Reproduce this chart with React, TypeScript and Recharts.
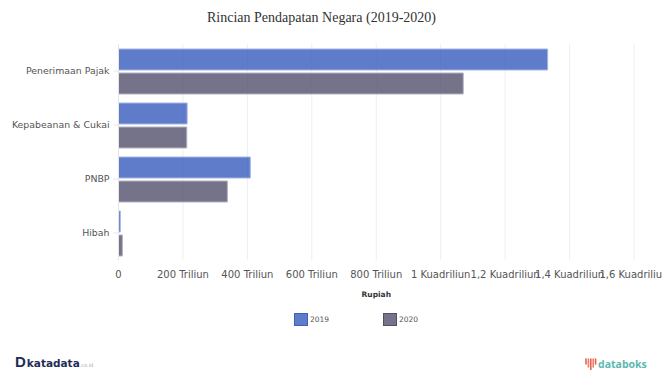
import { BarChart, Bar, XAxis, YAxis, CartesianGrid, Label } from "recharts";

// Nilai dalam triliun rupiah
const categories = ["Penerimaan Pajak", "Kepabeanan & Cukai", "PNBP", "Hibah"];
const values2019 = [1332, 213, 409, 5.5];
const values2020 = [1070, 212, 338, 12];
const xTicks = [0, 200, 400, 600, 800, 1000, 1200, 1400, 1600];

const rows = categories.map((name, i) => ({
  name,
  y2019: values2019[i],
  y2020: values2020[i],
}));

function formatRupiah(v: number) {
  if (v === 0) return "0";
  if (v < 1000) return `${v} Triliun`;
  return `${String(v / 1000).replace(".", ",")} Kuadriliun`;
}

const legendItems = [
  { label: "2019", left: 293.5, fill: "#5f7ccb", border: "#3f60c2" },
  { label: "2020", left: 382.5, fill: "#747389", border: "#51506c" },
];

function ChartLegend() {
  return (
    <div style={{ position: "absolute", left: 0, top: 313, width: 662, height: 20 }}>
      {legendItems.map((item) => (
        <div key={item.label}>
          <div
            style={{
              position: "absolute",
              left: item.left,
              top: 0,
              width: 12,
              height: 11,
              background: item.fill,
              border: `1px solid ${item.border}`,
            }}
          />
          <div
            style={{
              position: "absolute",
              left: item.left + 16.5,
              top: 2,
              font: "7.5px 'DejaVu Sans', sans-serif",
              color: "#555",
            }}
          >
            {item.label}
          </div>
        </div>
      ))}
    </div>
  );
}

// Label kategori satu baris, tanpa pembungkusan otomatis
function CategoryTick({ x, y, payload }: any) {
  return (
    <text
      x={x}
      y={y}
      dy={2.5}
      textAnchor="end"
      fontSize={9.4}
      fontFamily="'DejaVu Sans', sans-serif"
      fill="#555"
    >
      {payload.value}
    </text>
  );
}

function KatadataLogo() {
  return (
    <div
      style={{
        position: "absolute",
        left: 15,
        top: 354,
        height: 16,
        display: "flex",
        alignItems: "baseline",
        fontFamily: "'DejaVu Sans', sans-serif",
        color: "#1f2d57",
        lineHeight: "16px",
      }}
    >
      <span style={{ fontSize: 15, fontWeight: 900, fontFamily: "'Liberation Sans', sans-serif", marginRight: 1 }}>D</span>
      <span style={{ fontSize: 10.5, fontWeight: 700 }}>katadata</span>
      <span style={{ fontSize: 5, color: "#9aa3b0" }}>.co.id</span>
    </div>
  );
}

const fanHeights = [5, 8, 11, 8, 5];

function DataboksLogo() {
  return (
    <div style={{ position: "absolute", left: 584, top: 357 }}>
      <svg width={14} height={14} style={{ position: "absolute", left: 0, top: 0 }}>
        {fanHeights.map((h, i) => (
          <line
            key={i}
            x1={2 + i * 2.4}
            x2={2 + i * 2.4}
            y1={2}
            y2={2 + h}
            stroke={i % 2 ? "#ef7f5f" : "#e9604f"}
            strokeWidth={1.6}
            strokeLinecap="round"
          />
        ))}
      </svg>
      <span
        style={{
          position: "absolute",
          left: 14,
          top: 0,
          font: "700 10.5px/14px 'Open Sans', sans-serif",
          color: "#5cb8b2",
        }}
      >
        databoks
      </span>
    </div>
  );
}

export default function App() {
  return (
    <div style={{ position: "absolute", left: 0, top: 0, width: 662, height: 370, background: "#fff", overflow: "hidden" }}>
      <div
        style={{
          position: "absolute",
          top: 10,
          left: 207,
          whiteSpace: "nowrap",
          font: "14px/16px 'Liberation Serif', serif",
          color: "#333",
        }}
      >
        Rincian Pendapatan Negara (2019-2020)
      </div>
      <BarChart
        width={662}
        height={370}
        layout="vertical"
        data={rows}
        margin={{ top: 44, right: 28, bottom: 80, left: 0 }}
        barCategoryGap={5}
        barGap={3}
      >
        <CartesianGrid horizontal={false} stroke="#eeeeee" />
        <XAxis
          type="number"
          domain={[0, 1600]}
          ticks={xTicks}
          interval={0}
          tickFormatter={formatRupiah}
          axisLine={false}
          tickLine={false}
          tickMargin={5}
          height={30}
          tick={{ fontSize: 10, fontFamily: "'DejaVu Sans', sans-serif", fill: "#555" }}
        >
          <Label
            value="Rupiah"
            position="insideBottom"
            offset={-7}
            style={{ fontSize: 7.5, fontWeight: 700, fontFamily: "'DejaVu Sans', sans-serif", fill: "#333" }}
          />
        </XAxis>
        <YAxis
          type="category"
          dataKey="name"
          width={118.5}
          axisLine={{ stroke: "#e6e6e6" }}
          tickLine={{ stroke: "#e6e6e6" }}
          tickSize={5}
          tickMargin={4}
          interval={0}
          tick={<CategoryTick />}
        />
        <Bar dataKey="y2019" name="2019" fill="#375bbe" fillOpacity={0.8} stroke="#a5b5e3" isAnimationActive={false} />
        <Bar dataKey="y2020" name="2020" fill="#51506c" fillOpacity={0.8} stroke="#b4b3c2" isAnimationActive={false} />
      </BarChart>
      <ChartLegend />
      <KatadataLogo />
      <DataboksLogo />
    </div>
  );
}
